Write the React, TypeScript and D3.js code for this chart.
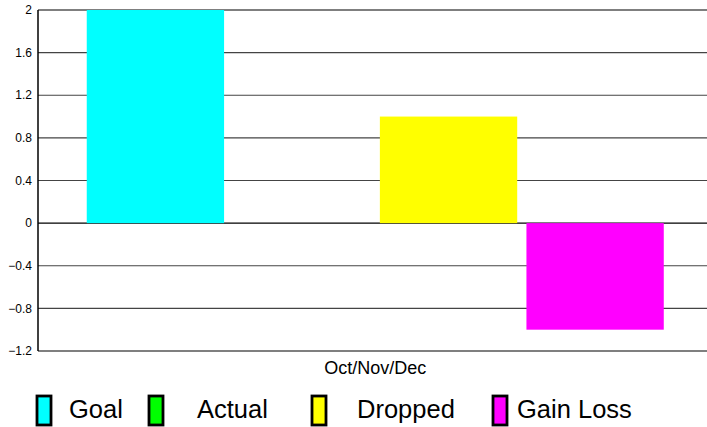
import { useEffect, useRef } from "react";
import * as d3 from "d3";

// chart data
const categories = ["Oct/Nov/Dec"];
const seriesNames = ["Goal", "Actual", "Dropped", "Gain Loss"];
const seriesColors = ["#00ffff", "#00ff00", "#ffff00", "#ff00ff"];
const seriesValues = [[2], [0], [1], [-1]];
const yTicks = [2, 1.6, 1.2, 0.8, 0.4, 0, -0.4, -0.8, -1.2];

// legend layout (swatch x, label x)
const legendSwatchX = [37, 149, 312, 493];
const legendLabelX = [69, 197, 357, 517];

export default function App() {
	const ref = useRef<SVGSVGElement>(null);

	useEffect(() => {
		const svg = d3.select(ref.current);
		svg.selectAll("*").remove();

		const W = 707;
		const H = 427;
		const margin = { top: 10, right: 0, bottom: 76, left: 38 };

		const y = d3.scaleLinear().domain([-1.2, 2]).range([H - margin.bottom, margin.top]);
		const x0 = d3.scaleBand<string>()
			.domain(categories)
			.range([margin.left, W - margin.right])
			.paddingInner(0)
			.paddingOuter(0.0797)
			.align(0.53);
		const x1 = d3.scaleBand<string>()
			.domain(seriesNames)
			.range([0, x0.bandwidth()])
			.paddingInner(0.063)
			.paddingOuter(0);

		const font = "Arial, 'Liberation Sans', sans-serif";

		// gridlines
		svg.append("g")
			.selectAll("line")
			.data(yTicks)
			.join("line")
			.attr("x1", margin.left)
			.attr("x2", W)
			.attr("y1", d => y(d))
			.attr("y2", d => y(d))
			.attr("stroke", d => (d === 0 || d === 2 || d === -1.2 ? "#000" : "#444"))
			.attr("stroke-width", 1.2);

		// y axis line
		svg.append("line")
			.attr("x1", margin.left)
			.attr("x2", margin.left)
			.attr("y1", y(2))
			.attr("y2", y(-1.2))
			.attr("stroke", "#000")
			.attr("stroke-width", 1.5);

		// y tick labels
		svg.append("g")
			.selectAll("text")
			.data(yTicks)
			.join("text")
			.attr("x", margin.left - 6)
			.attr("y", d => y(d))
			.attr("dy", "0.35em")
			.attr("text-anchor", "end")
			.attr("font-family", font)
			.attr("font-size", 12)
			.attr("fill", "#000")
			.text(d => d3.format("~g")(d));

		// bars
		categories.forEach((cat, ci) => {
			svg.append("g")
				.selectAll("rect")
				.data(seriesNames)
				.join("rect")
				.attr("x", s => x0(cat)! + x1(s)!)
				.attr("y", (s, i) => y(Math.max(0, seriesValues[i][ci])))
				.attr("width", x1.bandwidth())
				.attr("height", (s, i) => Math.abs(y(seriesValues[i][ci]) - y(0)))
				.attr("fill", (s, i) => seriesColors[i]);
		});

		// x labels
		svg.append("g")
			.selectAll("text")
			.data(categories)
			.join("text")
			.attr("x", d => x0(d)! + x0.bandwidth() / 2)
			.attr("y", 374)
			.attr("text-anchor", "middle")
			.attr("font-family", font)
			.attr("font-size", 18)
			.text(d => d);

		// legend
		const legend = svg.append("g");
		seriesNames.forEach((name, i) => {
			legend.append("rect")
				.attr("x", legendSwatchX[i])
				.attr("y", 396)
				.attr("width", 14)
				.attr("height", 29)
				.attr("fill", seriesColors[i])
				.attr("stroke", "#000")
				.attr("stroke-width", 2.8);
			legend.append("text")
				.attr("x", legendLabelX[i])
				.attr("y", 418)
				.attr("font-family", font)
				.attr("font-size", 25.5)
				.text(name);
		});
	}, []);

	return (
		<svg
			ref={ref}
			width={707}
			height={427}
			style={{ position: "absolute", left: 0, top: 0, background: "#fff" }}
		/>
	);
}
